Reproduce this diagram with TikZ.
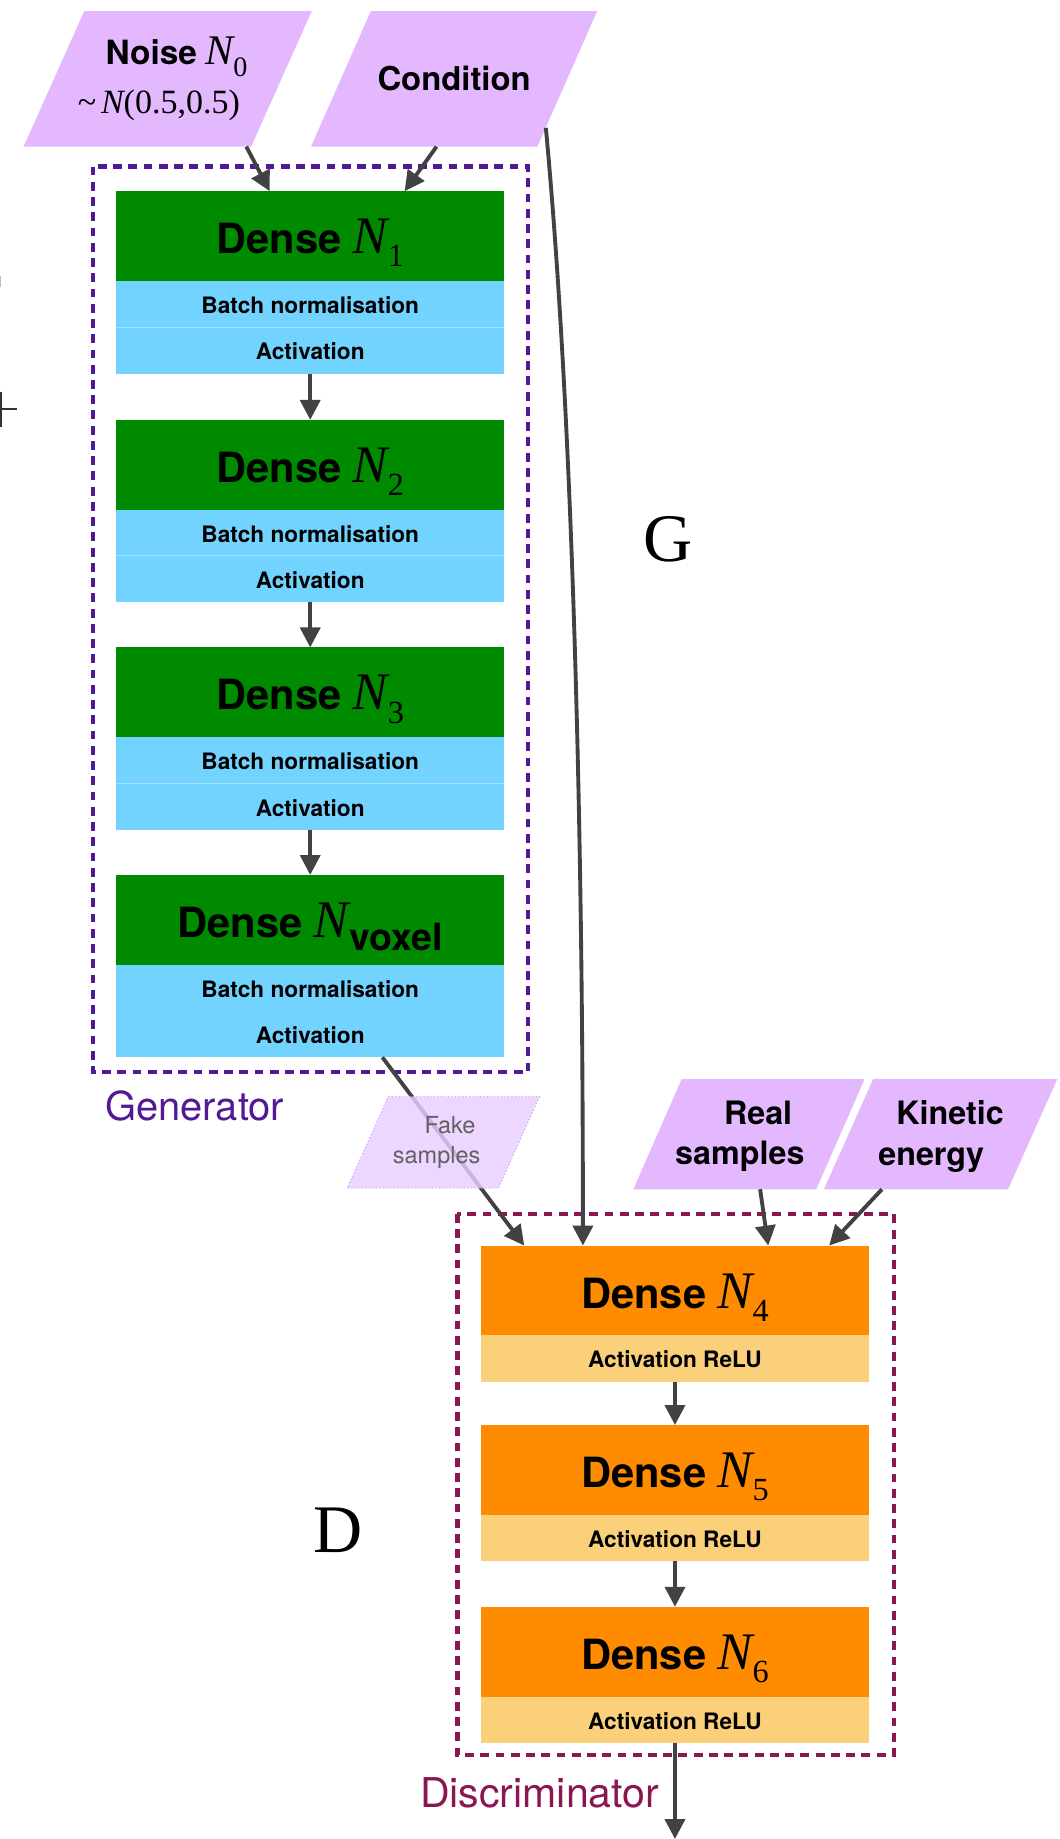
\documentclass[tikz,border=0pt]{standalone}
\usepackage{fontspec}
\setmainfont{Liberation Serif}
\setsansfont{TeX Gyre Heros}
\usetikzlibrary{arrows.meta,calc}
\definecolor{lav}{RGB}{227,184,255}
\definecolor{lavlight}{RGB}{233,205,255}
\definecolor{lavdot}{RGB}{212,168,250}
\definecolor{gen}{RGB}{83,24,150}
\definecolor{dis}{RGB}{138,22,82}
\definecolor{dgreen}{RGB}{0,138,0}
\definecolor{lblue}{RGB}{115,211,255}
\definecolor{orng}{RGB}{255,140,0}
\definecolor{lorng}{RGB}{250,208,122}
\definecolor{arrgray}{RGB}{66,66,66}
\pgfdeclarelayer{bg}\pgfdeclarelayer{over}\pgfdeclarelayer{top}
\pgfsetlayers{bg,main,over,top}
\newcommand\sz[1]{\fontsize{#1}{#1}\selectfont}
\newcommand\NN[4]{{\normalfont\itshape\sz{#1}N}\raisebox{-#3pt}{\normalfont\sz{#2}#4}}
\newcommand\densetext[1]{{\sffamily\bfseries\sz{35.5}Dense}\hspace{9.5pt}\NN{45}{27.5}{11.4}{#1}}
\newcommand\parafill[3]{\path[#3] ([xshift=#2]#1.north west) -- ([xshift=#2]#1.north east) -- ([xshift=-#2]#1.south east) -- ([xshift=-#2]#1.south west) -- cycle;}
\tikzset{
 blk/.style={minimum width=331pt, inner sep=0pt, outer sep=0pt, font=\sffamily\bfseries\sz{19.3}, anchor=north},
 dense/.style={blk, minimum height=76.5pt, text height=33pt, text depth=3pt},
 subbox/.style={blk, minimum height=39.5pt, text height=17pt, text depth=1pt},
 gdense/.style={dense, fill=dgreen},
 gsub/.style={subbox, fill=lblue},
 ddense/.style={dense, fill=orng},
 dsub/.style={subbox, fill=lorng},
 para/.style={inner sep=0pt, outer sep=0pt, align=center},
 arr/.style={draw=arrgray, line width=3.3pt, -{Triangle[length=17pt,width=17pt]}},
 gbox/.style={draw=gen, line width=3.6pt, dash pattern=on 7.5pt off 5.5pt},
 dbox/.style={draw=dis, line width=3.6pt, dash pattern=on 7.5pt off 5.5pt},
 divider/.style={draw=white, draw opacity=0.35, line width=0.8pt},
}
\begin{document}
\begin{tikzpicture}[x=1pt,y=-1pt]
\useasboundingbox (0,0) rectangle (903,1568);
% stray marks at the left edge
\draw[line width=2pt, black!80] (1,334) -- (1,364);
\draw[line width=2pt, black!80] (0,348.5) -- (14.5,348.5);
\draw[line width=1.2pt, black!25] (0.6,235) -- (0.6,245);

% input parallelograms
\node[para, minimum width=194pt, minimum height=115.6pt, font=\fontsize{29}{41}\selectfont] (noise) at (143,67.2)
 {\hspace*{15pt}{\sffamily\bfseries\sz{28.5}Noise}\hspace{7pt}\NN{36}{24}{10}{0}\\ {\textasciitilde\hspace{4pt}{\itshape N}(0.5,0.5)\hspace*{15pt}}};
\node[para, minimum width=193pt, minimum height=115.6pt, font=\sffamily\bfseries\sz{28}] (cond) at (387.2,67.2) {Condition};
\node[para, minimum width=156pt, minimum height=94pt, font=\sffamily\bfseries\fontsize{27.5}{34.5}\selectfont] (real) at (638.6,969)
 {\hspace*{15.6pt}Real\\samples\hspace*{15.6pt}};
\node[para, minimum width=157pt, minimum height=94pt, font=\sffamily\bfseries\fontsize{27.5}{34.5}\selectfont] (kin) at (802,969)
 {\hspace*{16pt}Kinetic\\energy\hspace*{16pt}};
\begin{pgfonlayer}{top}
\node[para, minimum width=129pt, minimum height=78pt, text=black!62, font=\sffamily\fontsize{20}{25.2}\selectfont] (fake) at (378,974)
 {\hspace*{11.4pt}Fake\\samples\hspace*{11.4pt}};
\end{pgfonlayer}
\begin{pgfonlayer}{bg}
\parafill{noise}{25.85pt}{fill=lav}
\parafill{cond}{25.5pt}{fill=lav}
\path[fill=lav] ([xshift=20.6pt,yshift=2pt]real.north west) -- ([xshift=20.6pt,yshift=2pt]real.north east) -- ([xshift=-20.6pt,yshift=2pt]real.south east) -- ([xshift=-20.6pt,yshift=2pt]real.south west) -- cycle;
\path[fill=lav] ([xshift=21pt,yshift=2pt]kin.north west) -- ([xshift=21pt,yshift=2pt]kin.north east) -- ([xshift=-21pt,yshift=2pt]kin.south east) -- ([xshift=-21pt,yshift=2pt]kin.south west) -- cycle;
\end{pgfonlayer}
\begin{pgfonlayer}{over}
\parafill{fake}{17.5pt}{fill=lavlight, fill opacity=0.82, draw=lavdot, dotted, line width=1pt}
\end{pgfonlayer}

% generator blocks
\node[gdense] (gd1) at (264.5,163) {\densetext{1}};
\node[gsub] (gb1) at (gd1.south) {Batch normalisation};
\node[gsub] (ga1) at (gb1.south) {Activation};
\node[gdense] (gd2) at (264.5,358) {\densetext{2}};
\node[gsub] (gb2) at (gd2.south) {Batch normalisation};
\node[gsub] (ga2) at (gb2.south) {Activation};
\node[gdense] (gd3) at (264.5,552) {\densetext{3}};
\node[gsub] (gb3) at (gd3.south) {Batch normalisation};
\node[gsub] (ga3) at (gb3.south) {Activation};
\node[gdense] (gd4) at (264.5,746) {{\sffamily\bfseries\sz{35.5}Dense}\hspace{9.5pt}{\normalfont\itshape\sz{45}N}\raisebox{-10.8pt}{\sffamily\bfseries\sz{32}voxel}};
\node[gsub] (gb4) at (gd4.south) {Batch normalisation};
\node[gsub] (ga4) at (gb4.south) {Activation};
\foreach \i in {1,2,3}{\draw[divider] (gb\i.south west) -- (gb\i.south east);}

% discriminator blocks
\node[ddense] (dd4) at (575.5,1062) {\densetext{4}};
\node[dsub] (da4) at (dd4.south) {Activation ReLU};
\node[ddense] (dd5) at (575.5,1215) {\densetext{5}};
\node[dsub] (da5) at (dd5.south) {Activation ReLU};
\node[ddense] (dd6) at (575.5,1370) {\densetext{6}};
\node[dsub] (da6) at (dd6.south) {Activation ReLU};

% frames and labels
\draw[gbox] (79,142) rectangle (450.5,914);
\draw[dbox] (390,1035) rectangle (762,1496.5);
\node[anchor=base west, inner sep=0pt, text=gen, font=\sffamily\sz{34}] (genlab) at (89.5,955) {Generator};
\node[anchor=base west, inner sep=0pt, text=dis, font=\sffamily\sz{35}] (dislab) at (358,1541) {Discriminator};
\node[inner sep=0pt, font=\sz{58}] (glab) at (570,460) {G};
\node[inner sep=0pt, font=\sz{58}] (dlab) at (288,1305) {D};

% connectors
\draw[arr] ([xshift=67pt]noise.south) -- ([xshift=-34.5pt]gd1.north);
\draw[arr] ([xshift=-15pt]cond.south) -- ([xshift=80.5pt]gd1.north);
\draw[arr] (ga1.south) -- (gd2.north);
\draw[arr] (ga2.south) -- (gd3.north);
\draw[arr] (ga3.south) -- (gd4.north);
\draw[arr] ([xshift=61.5pt]ga4.south) -- ([xshift=-128.5pt]dd4.north);
\draw[arr] ([xshift=-18.3pt,yshift=16pt]cond.south east) .. controls (488,350) and (497,700) .. ([xshift=-78.5pt]dd4.north);
\draw[arr] ([xshift=9.5pt,yshift=2pt]real.south) -- ([xshift=79.5pt]dd4.north);
\draw[arr] ([xshift=-50pt,yshift=2pt]kin.south) -- ([xshift=131.5pt]dd4.north);
\draw[arr] (da4.south) -- (dd5.north);
\draw[arr] (da5.south) -- (dd6.north);
\coordinate (out) at (575.5,1568);
\draw[arr] (da6.south) -- (out);
\end{tikzpicture}
\end{document}
